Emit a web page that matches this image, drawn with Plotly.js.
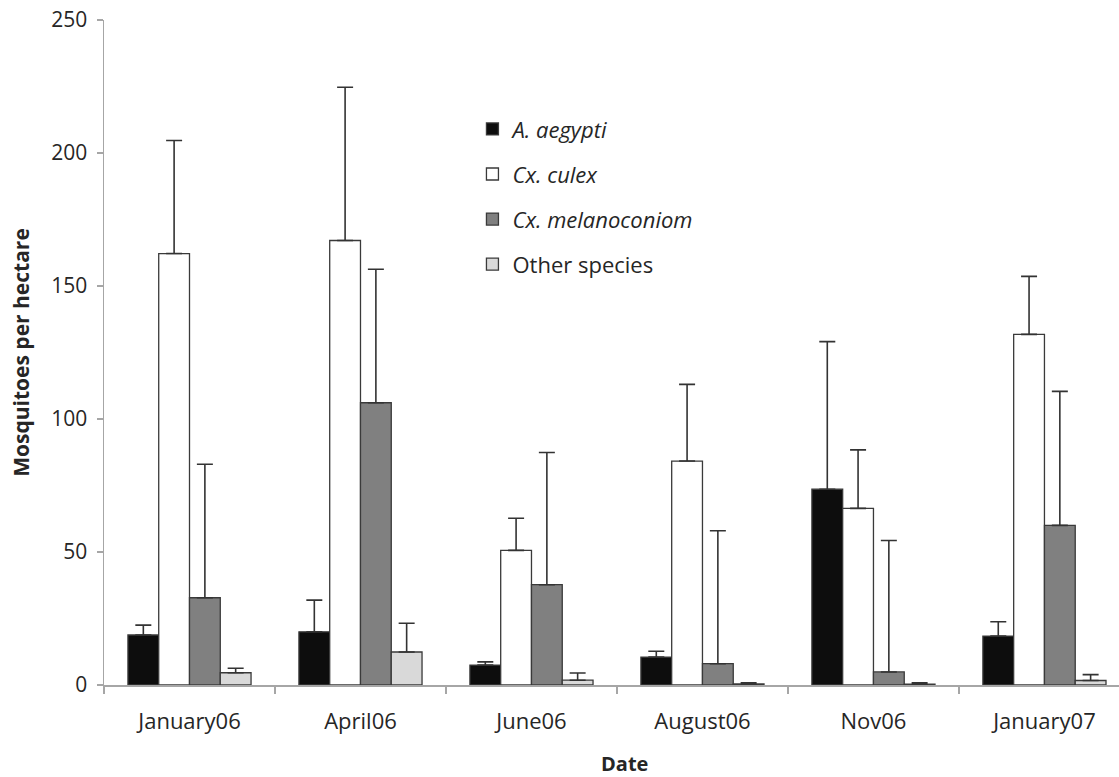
<!DOCTYPE html>
<html>
<head>
<meta charset="utf-8">
<script src="https://cdn.plot.ly/plotly-3.0.1.min.js"></script>
<style>html,body{margin:0;padding:0;background:#fff;}#chart{width:1119px;height:777px;}</style>
</head>
<body>
<div id="chart"></div>
<script>
const categories = ['January06', 'April06', 'June06', 'August06', 'Nov06', 'January07'];
const aegypti    = [18.8, 20.0, 7.5, 10.5, 73.6, 18.4];
const aegyptiErr = [3.7, 11.9, 1.2, 2.2, 55.5, 5.4];
const culex      = [162.2, 167.1, 50.6, 84.2, 66.4, 131.8];
const culexErr   = [42.5, 57.6, 12.1, 28.8, 22.0, 21.8];
const melano     = [32.8, 106.1, 37.7, 8.0, 4.9, 60.0];
const melanoErr  = [50.2, 50.2, 49.7, 50.0, 49.4, 50.4];
const other      = [4.6, 12.4, 1.8, 0.4, 0.3, 1.7];
const otherErr   = [1.7, 10.8, 2.7, 0.4, 0.5, 2.2];
const seriesNames = ['<i>A. aegypti</i>', '<i>Cx. culex</i>', '<i>Cx. melanoconiom</i>', 'Other species'];
const seriesColors = ['#0d0d0d', '#ffffff', '#808080', '#d9d9d9'];

const values = [aegypti, culex, melano, other];
const errs = [aegyptiErr, culexErr, melanoErr, otherErr];

const traces = values.map((v, i) => ({
  type: 'bar',
  x: categories,
  y: v,
  name: seriesNames[i],
  legendgroup: 'g' + i,
  marker: {color: seriesColors[i], line: {color: '#3a3a3a', width: 1.3}},
  error_y: {
    type: 'data', symmetric: false, array: errs[i], arrayminus: v.map(() => 0),
    color: '#333333', thickness: 1.6, width: 8
  }
}));

const txt = '#262626';
const layout = {
  width: 1119, height: 777,
  margin: {l: 104, r: 0, t: 20, b: 92},
  paper_bgcolor: '#ffffff', plot_bgcolor: '#ffffff',
  barmode: 'group', bargap: 0.28, bargroupgap: 0,
  showlegend: true,
  legend: {
    x: 0.363, y: 0.8675, xanchor: 'left', yanchor: 'top',
    traceorder: 'grouped', tracegroupgap: 13.5,
    font: {family: 'Open Sans', size: 22, color: txt},
    bgcolor: 'rgba(0,0,0,0)'
  },
  xaxis: {
    type: 'category', range: [-0.5, 5.436],
    showline: true, linecolor: '#a6a6a6', linewidth: 1.5,
    ticks: 'outside', tickson: 'boundaries', ticklen: 7, tickcolor: '#a6a6a6', tickwidth: 1.3,
    tickfont: {family: 'Open Sans', size: 22, color: txt},
    ticklabelstandoff: 16,
    showgrid: false, zeroline: false, fixedrange: true
  },
  yaxis: {
    range: [0, 250], dtick: 50, tick0: 0,
    showline: true, linecolor: '#a6a6a6', linewidth: 1.5,
    ticks: 'outside', ticklen: 6, tickcolor: '#a6a6a6', tickwidth: 1.3,
    tickfont: {family: 'Open Sans', size: 21, color: txt},
    ticklabelstandoff: 5,
    showgrid: false, zeroline: false,
    title: {text: '<b>Mosquitoes per hectare</b>', font: {family: 'Open Sans', size: 21, color: txt}, standoff: 16}
  },
  annotations: [{
    text: '<b>Date</b>', xref: 'paper', yref: 'paper', x: 0.513, y: -0.118,
    xanchor: 'center', yanchor: 'middle', showarrow: false,
    font: {family: 'Open Sans', size: 20, color: txt}
  }]
};

Plotly.newPlot('chart', traces, layout, {displayModeBar: false, staticPlot: true});
</script>
</body>
</html>
